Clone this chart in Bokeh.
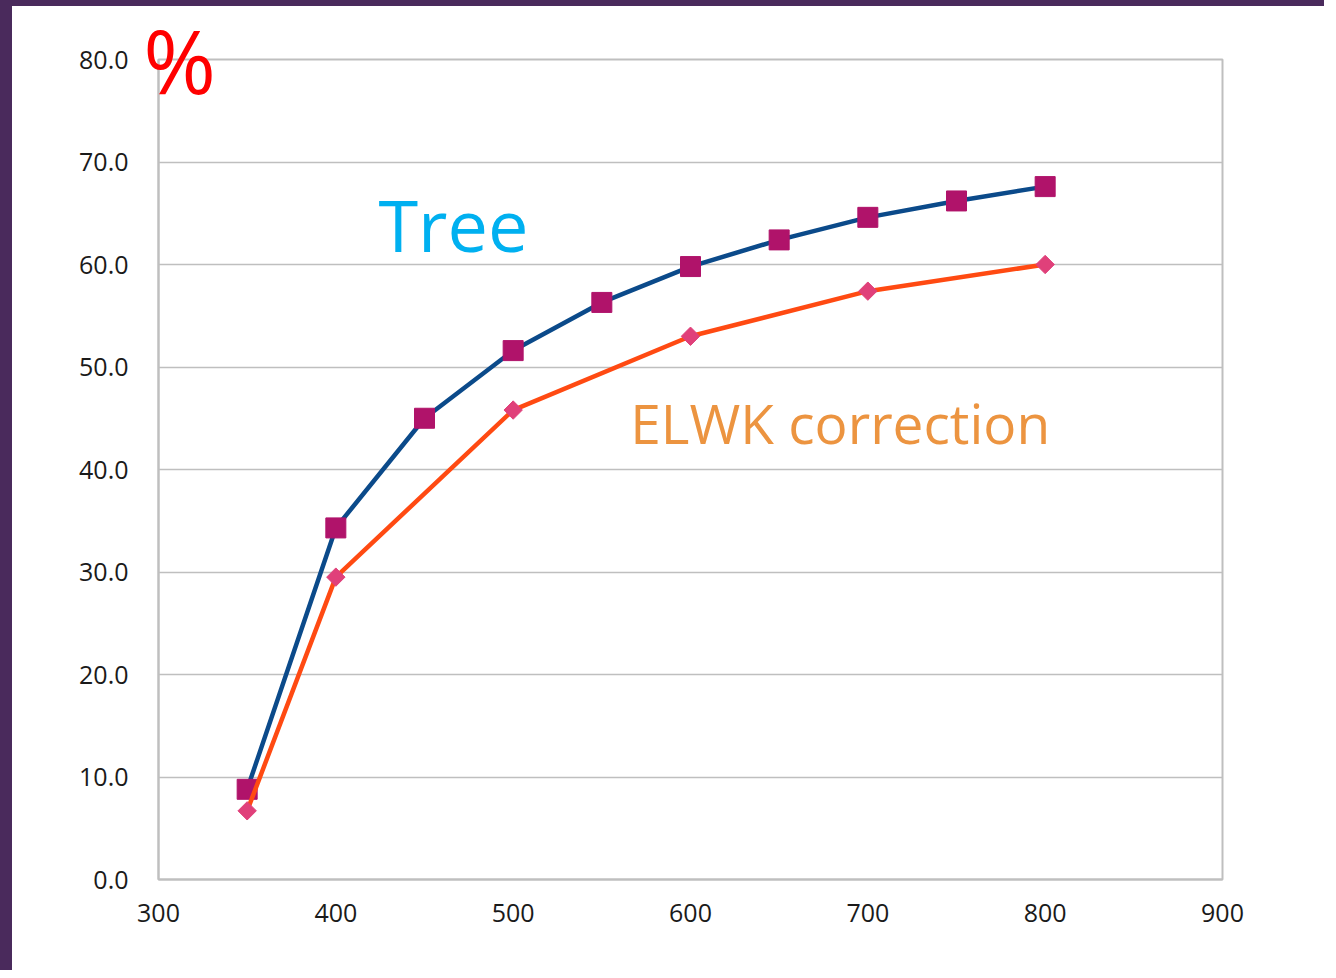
import math
from bokeh.plotting import figure
from bokeh.models import Label, FixedTicker, Range1d
from bokeh.embed import file_html
from bokeh.resources import INLINE

# Data
x_tree = [350, 400, 450, 500, 550, 600, 650, 700, 750, 800]
y_tree = [8.8, 34.3, 45.0, 51.6, 56.3, 59.8, 62.4, 64.6, 66.2, 67.6]
x_elwk = [350, 400, 500, 600, 700, 800]
y_elwk = [6.7, 29.5, 45.8, 53.0, 57.4, 60.0]
x_ticks = [300, 400, 500, 600, 700, 800, 900]
y_ticks = [0, 10, 20, 30, 40, 50, 60, 70, 80]

FONT = "Open Sans"
W, H = 1324, 970

p = figure(width=W, height=H, output_backend="svg", toolbar_location=None,
           x_range=Range1d(300, 900), y_range=Range1d(0, 80),
           min_border_left=146, min_border_right=114,
           min_border_top=53, min_border_bottom=H - 53 - 820)
p.styles = {"border-left": "12px solid #4a2a5c", "border-top": "6px solid #4a2a5c"}

p.background_fill_color = "white"
p.border_fill_color = "white"
p.outline_line_color = "#bfbfbf"
p.outline_line_width = 2

p.xgrid.grid_line_color = None
p.ygrid.grid_line_color = "#bfbfbf"
p.ygrid.grid_line_width = 1.5

p.xaxis.ticker = FixedTicker(ticks=x_ticks)
p.yaxis.ticker = FixedTicker(ticks=y_ticks)
p.yaxis.major_label_overrides = {v: f"{v:.1f}" for v in y_ticks}
for ax in (p.xaxis[0], p.yaxis[0]):
    ax.axis_line_color = "#bfbfbf"
    ax.axis_line_width = 2
    ax.major_tick_line_color = None
    ax.minor_tick_line_color = None
    ax.major_label_text_font = FONT
    ax.major_label_text_font_size = "25px"
    ax.major_label_text_color = "#1a1a1a"
p.xaxis.major_label_standoff = 18
p.yaxis.major_label_standoff = 24

# "%" unit marker as the y-axis label, at the top end of the axis
p.yaxis.axis_label = "%"
p.yaxis.axis_label_orientation = "horizontal"
p.yaxis.axis_label_align = "end"
p.yaxis.axis_label_standoff = -140
p.yaxis.axis_label_text_color = "#ff0000"
p.yaxis.axis_label_text_font = FONT
p.yaxis.axis_label_text_font_style = "normal"
p.yaxis.axis_label_text_font_size = "88px"

# Tree series
p.line(x_tree, y_tree, line_color="#0b4a8a", line_width=4.5)
p.scatter(x_tree, y_tree, marker="square", size=20, fill_color="#b0136a", line_color="#b0136a")

# ELWK series
p.line(x_elwk, y_elwk, line_color="#ff4a12", line_width=4.5)
p.scatter(x_elwk, y_elwk, marker="square", size=13, angle=math.pi / 4,
          fill_color="#e0407a", line_color="#e0407a")

p.add_layout(Label(x=424, y=64.0, text="Tree", text_color="#00b0f0",
                   text_font=FONT, text_font_size="72px", text_baseline="alphabetic"))
p.add_layout(Label(x=566, y=44.55, text="ELWK correction", text_color="#ec9440",
                   text_font=FONT, text_font_size="55px", text_baseline="alphabetic"))

open("out.html", "w").write(file_html(p, INLINE))
